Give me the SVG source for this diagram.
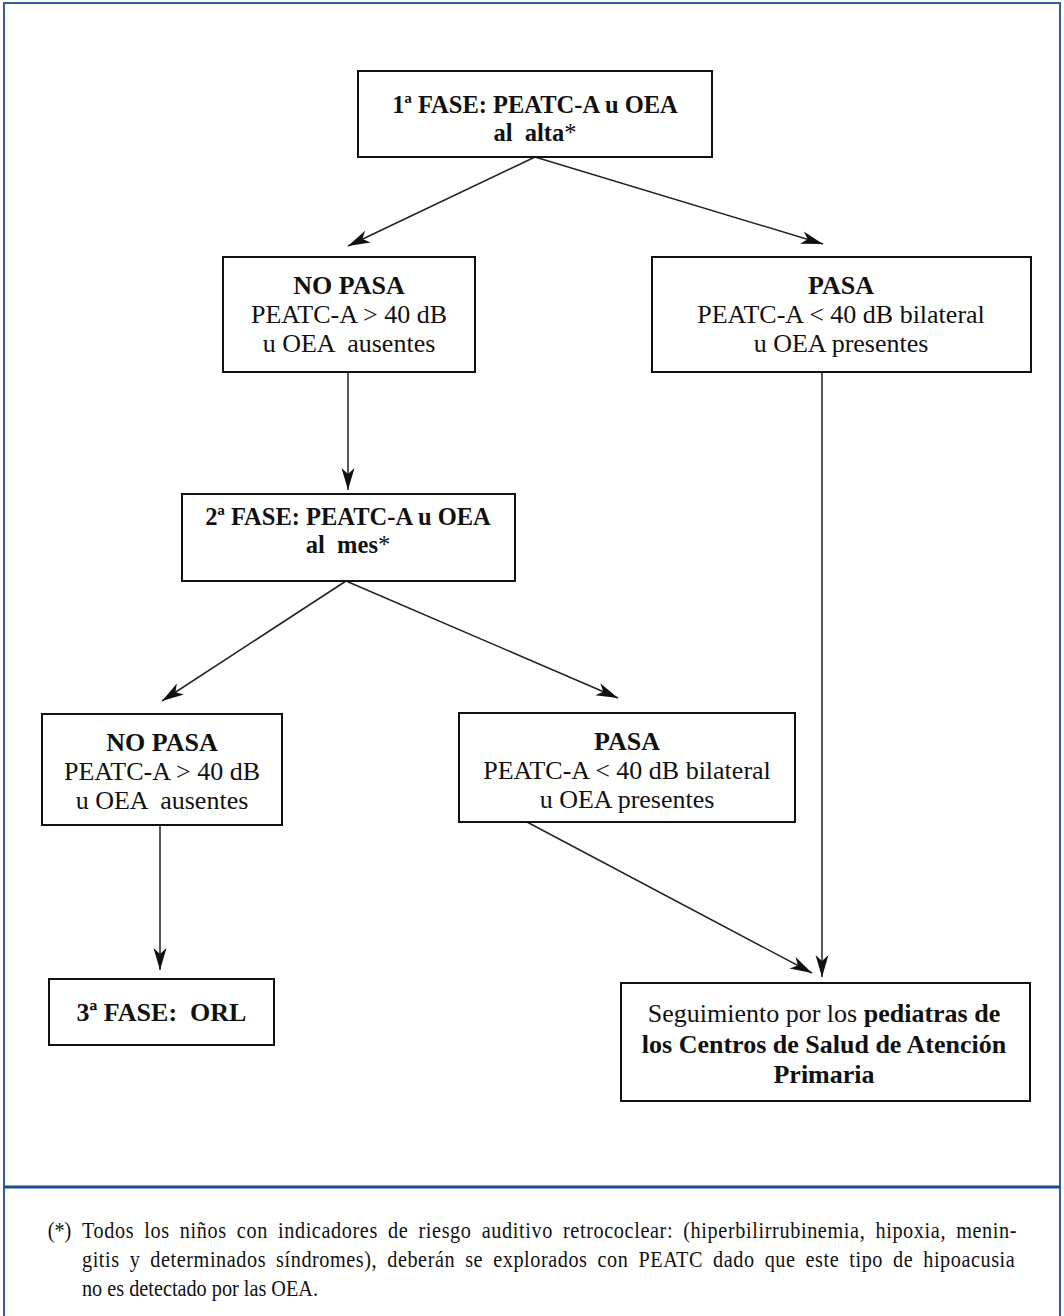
<svg xmlns="http://www.w3.org/2000/svg" width="1064" height="1316" viewBox="0 0 1064 1316">
<style>
.box{fill:#fff;stroke:#111;stroke-width:2}
.t{font-family:'Liberation Serif','DejaVu Serif',Tinos,'Times New Roman',serif;font-size:26px;fill:#111;text-anchor:middle;white-space:pre}
.s{font-size:24.5px}
.b{font-weight:bold}
.n{font-weight:normal}
.fn{font-family:'Liberation Serif','DejaVu Serif',Tinos,'Times New Roman',serif;font-size:23px;fill:#111;white-space:pre}
.j{word-spacing:5px}
.c{fill:none;stroke:#222;stroke-width:1.5;marker-end:url(#ah)}
</style>
<defs>
<marker id="ah" viewBox="-23 -8 24 16" refX="0" refY="0" markerWidth="24" markerHeight="16" markerUnits="userSpaceOnUse" orient="auto">
<path d="M0,0 L-22,-6.5 L-16,0 L-22,6.5 Z" fill="#111"/>
</marker>
</defs>
<rect width="1064" height="1316" fill="#fff"/>
<g id="frame">
<path d="M4,1320 V3 H1060 V1320" fill="none" stroke="#2f5f9f" stroke-width="2"/>
<line x1="4" y1="1187" x2="1060" y2="1187" stroke="#1d4b8b" stroke-width="3"/>
</g>
<g id="connectors">
<line class="c" x1="535" y1="157" x2="348" y2="246"/>
<line class="c" x1="535" y1="157" x2="823" y2="244"/>
<line class="c" x1="348" y1="372" x2="348" y2="490"/>
<line class="c" x1="346" y1="581" x2="162" y2="701"/>
<line class="c" x1="346" y1="581" x2="618" y2="698"/>
<line class="c" x1="160" y1="825" x2="160" y2="970"/>
<line class="c" x1="527" y1="822" x2="812" y2="973"/>
<line class="c" x1="822" y1="372" x2="822" y2="977"/>
</g>
<g id="fase1">
<rect class="box" x="358" y="71" width="354" height="86"/>
<text class="t s b" x="535" y="113">1ª FASE: PEATC-A u OEA</text>
<text class="t s b" x="535" y="141">al  alta<tspan class="n">*</tspan></text>
</g>
<g id="nopasa1">
<rect class="box" x="223" y="257" width="252" height="115"/>
<text class="t b" x="349" y="294">NO PASA</text>
<text class="t" x="349" y="323">PEATC-A &gt; 40 dB</text>
<text class="t" x="349" y="352">u OEA  ausentes</text>
</g>
<g id="pasa1">
<rect class="box" x="652" y="257" width="379" height="115"/>
<text class="t b" x="841" y="294">PASA</text>
<text class="t" x="841" y="323">PEATC-A &lt; 40 dB bilateral</text>
<text class="t" x="841" y="352">u OEA presentes</text>
</g>
<g id="fase2">
<rect class="box" x="182" y="494" width="333" height="87"/>
<text class="t s b" x="348" y="525">2ª FASE: PEATC-A u OEA</text>
<text class="t s b" x="348" y="553">al  mes<tspan class="n">*</tspan></text>
</g>
<g id="nopasa2">
<rect class="box" x="42" y="714" width="240" height="111"/>
<text class="t b" x="162" y="751">NO PASA</text>
<text class="t" x="162" y="780">PEATC-A &gt; 40 dB</text>
<text class="t" x="162" y="809">u OEA  ausentes</text>
</g>
<g id="pasa2">
<rect class="box" x="459" y="713" width="336" height="109"/>
<text class="t b" x="627" y="750">PASA</text>
<text class="t" x="627" y="779">PEATC-A &lt; 40 dB bilateral</text>
<text class="t" x="627" y="808">u OEA presentes</text>
</g>
<g id="fase3">
<rect class="box" x="49" y="979" width="225" height="66"/>
<text class="t b" x="161.5" y="1021">3ª FASE:  ORL</text>
</g>
<g id="seguimiento">
<rect class="box" x="621" y="983" width="409" height="118"/>
<text class="t" x="824" y="1022">Seguimiento por los <tspan class="b">pediatras de</tspan></text>
<text class="t b" x="824" y="1053">los Centros de Salud de Atención</text>
<text class="t b" x="824" y="1083">Primaria</text>
</g>
<g id="footnote" transform="translate(82,0) scale(0.88,1)">
<text class="fn" x="-39" y="1238">(*)</text>
<text class="fn j" x="0" y="1238" textLength="1062" lengthAdjust="spacing">Todos los niños con indicadores de riesgo auditivo retrococlear: (hiperbilirrubinemia, hipoxia, menin-</text>
<text class="fn j" x="0" y="1267" textLength="1060" lengthAdjust="spacing">gitis y determinados síndromes), deberán se explorados con PEATC dado que este tipo de hipoacusia</text>
<text class="fn" x="0" y="1296">no es detectado por las OEA.</text>
</g>
</svg>
